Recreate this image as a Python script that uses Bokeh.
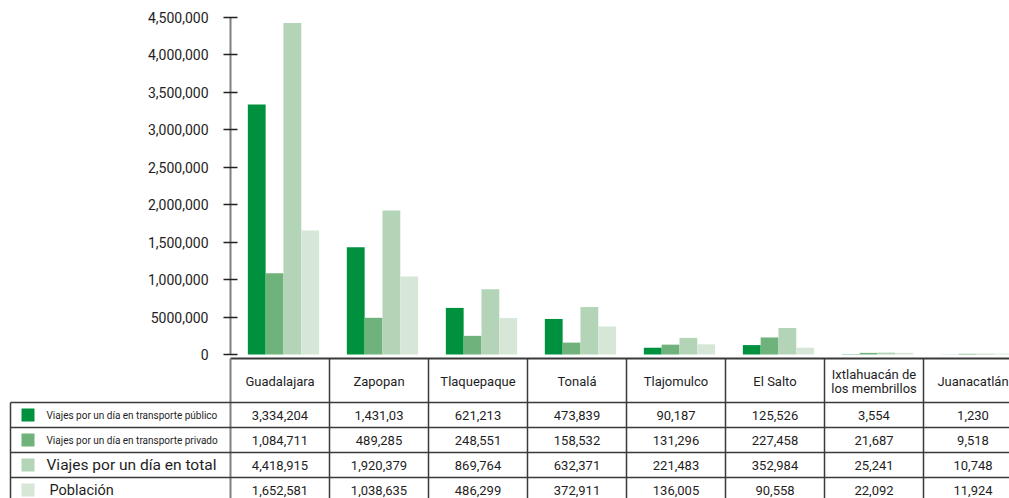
from bokeh.plotting import figure
from bokeh.models import Range1d, FixedTicker, ColumnDataSource, LinearAxis, Grid
from bokeh.core.properties import value
from bokeh.embed import file_html
from bokeh.resources import INLINE

# ---------------- data ----------------
categories = ["Guadalajara", "Zapopan", "Tlaquepaque", "Tonalá", "Tlajomulco",
              "El Salto", "Ixtlahuacán de\nlos membrillos", "Juanacatlán"]
publico = [3334204, 1431030, 621213, 473839, 90187, 125526, 3554, 1230]
privado = [1084711, 489285, 248551, 158532, 131296, 227458, 21687, 9518]
total = [4418915, 1920379, 869764, 632371, 221483, 352984, 25241, 10748]
poblacion = [1652581, 1038635, 486299, 372911, 136005, 90558, 22092, 11924]
series_names = ["Viajes por un día en transporte público",
                "Viajes por un día en transporte privado",
                "Viajes por un día en total",
                "Población"]
# value printed in the table that differs from the plain formatting
table_overrides = {(0, 1): "1,431,03"}
yticks = [0, 500000, 1000000, 1500000, 2000000, 2500000, 3000000, 3500000, 4000000, 4500000]
ytick_labels = ["0", "5000,000", "1,000,000", "1,500,000", "2,000,000", "2,500,000",
                "3,000,000", "3,500,000", "4,000,000", "4,500,000"]

# ---------------- style / layout ----------------
FONT = "Roboto"
colors = ["#00913f", "#70b27c", "#b4d4b7", "#d6e7d8"]
TEXT = "#1e1e1e"
LINE = "#3a3a3a"

W, H = 1009, 498         # figure size (page has no margin)
PAGE_L, PAGE_T = 0, 0
AXIS_X = 230             # page x of the value axis
COLW = 99.0              # page width of one category column
X_START = (PAGE_L - AXIS_X) / COLW
X_END = (PAGE_L + W - AXIS_X) / COLW
BASE = 354               # page y of the zero line
SCALE = 75.0 / 1e6       # pixels per unit value
Y_TOP = (BASE - PAGE_T) / SCALE
Y_BOT = -(PAGE_T + H - BASE) / SCALE


def px(xpage):
    return (xpage - AXIS_X) / COLW


series = [publico, privado, total, poblacion]
BW = 0.18
GROUP_C = 0.535

p = figure(width=W, height=H, x_range=Range1d(X_START, X_END), y_range=Range1d(Y_BOT, Y_TOP),
           output_backend="svg", toolbar_location=None, x_axis_location=None,
           y_axis_location=None, min_border=0)
p.min_border_left = p.min_border_right = p.min_border_top = p.min_border_bottom = 0
p.outline_line_color = None
p.background_fill_color = "white"
p.border_fill_color = "white"
p.grid.visible = False
p.center = [c for c in p.center if not isinstance(c, Grid)]
p.extra_y_ranges = {"tbl": Range1d(PAGE_T + H, PAGE_T)}   # table laid out in page rows

# ---------------- bars ----------------
for k, vals in enumerate(series):
    src = ColumnDataSource(dict(x=[i + GROUP_C + (k - 1.5) * BW for i in range(len(vals))],
                                top=vals))
    p.vbar(x="x", top="top", bottom=0, width=BW, source=src, fill_color=colors[k], line_color=None)

# ---------------- value axis ----------------
ya = LinearAxis(fixed_location=0, bounds=(0, 4500000))
ya.ticker = FixedTicker(ticks=yticks)
ya.major_label_overrides = {t: l for t, l in zip(yticks, ytick_labels)}
ya.axis_line_color = "#808080"
ya.axis_line_width = 2
ya.major_tick_line_color = "#222222"
ya.major_tick_line_width = 1.5
ya.major_tick_in = 7
ya.major_tick_out = 7
ya.minor_tick_line_color = None
ya.major_label_standoff = 15
ya.major_label_text_font = FONT
ya.major_label_text_font_size = "14px"
ya.major_label_text_color = TEXT
p.add_layout(ya, "left")

# ---------------- table ----------------
TOP = 358
HEAD_B = 402
ROW_H = 25
BOTTOM = PAGE_T + H
row_tops = [HEAD_B + r * ROW_H for r in range(4)]
ncol = len(categories)
T = dict(y_range_name="tbl")

p.segment(x0=[0], y0=[TOP], x1=[X_END], y1=[TOP], line_color=LINE, line_width=2, **T)
p.segment(x0=[0], y0=[TOP], x1=[0], y1=[BOTTOM], line_color="#808080", line_width=2, **T)
p.segment(x0=list(range(1, ncol + 1)), y0=[TOP] * ncol, x1=list(range(1, ncol + 1)),
          y1=[BOTTOM] * ncol, line_color=LINE, line_width=1.5, **T)
p.segment(x0=[px(10)] * 4, y0=row_tops, x1=[X_END] * 4, y1=row_tops,
          line_color=LINE, line_width=1.5, **T)
p.segment(x0=[px(10)], y0=[HEAD_B], x1=[px(10)], y1=[BOTTOM], line_color=LINE,
          line_width=1.5, **T)

p.text(x=[i + 0.5 for i in range(ncol)], y=[(TOP + HEAD_B) / 2 + 1] * ncol, text=categories,
       text_font=value(FONT), text_font_size="13px", text_color=TEXT,
       text_align="center", text_baseline="middle", text_line_height=0.9, **T)

legend_sizes = ["10px", "10px", "15.5px", "14.5px"]
legend_x = [px(46), px(46), px(46), px(49)]
for r, vals in enumerate(series):
    yc = row_tops[r] + ROW_H / 2
    labels = [table_overrides.get((r, i), f"{v:,}") for i, v in enumerate(vals)]
    p.text(x=[i + 0.5 for i in range(ncol)], y=[yc] * ncol, text=labels,
           text_font=value(FONT), text_font_size="13px", text_color=TEXT,
           text_align="center", text_baseline="middle", **T)
    p.rect(x=[px(27.5)], y=[yc], width=13, height=13, width_units="screen",
           height_units="screen", fill_color=colors[r], line_color=None, **T)
    p.text(x=[legend_x[r]], y=[yc], text=[series_names[r]], text_font=value(FONT),
           text_font_size=legend_sizes[r], text_color=TEXT, text_align="left",
           text_baseline="middle", **T)

open("out.html", "w").write(file_html(p, INLINE))
